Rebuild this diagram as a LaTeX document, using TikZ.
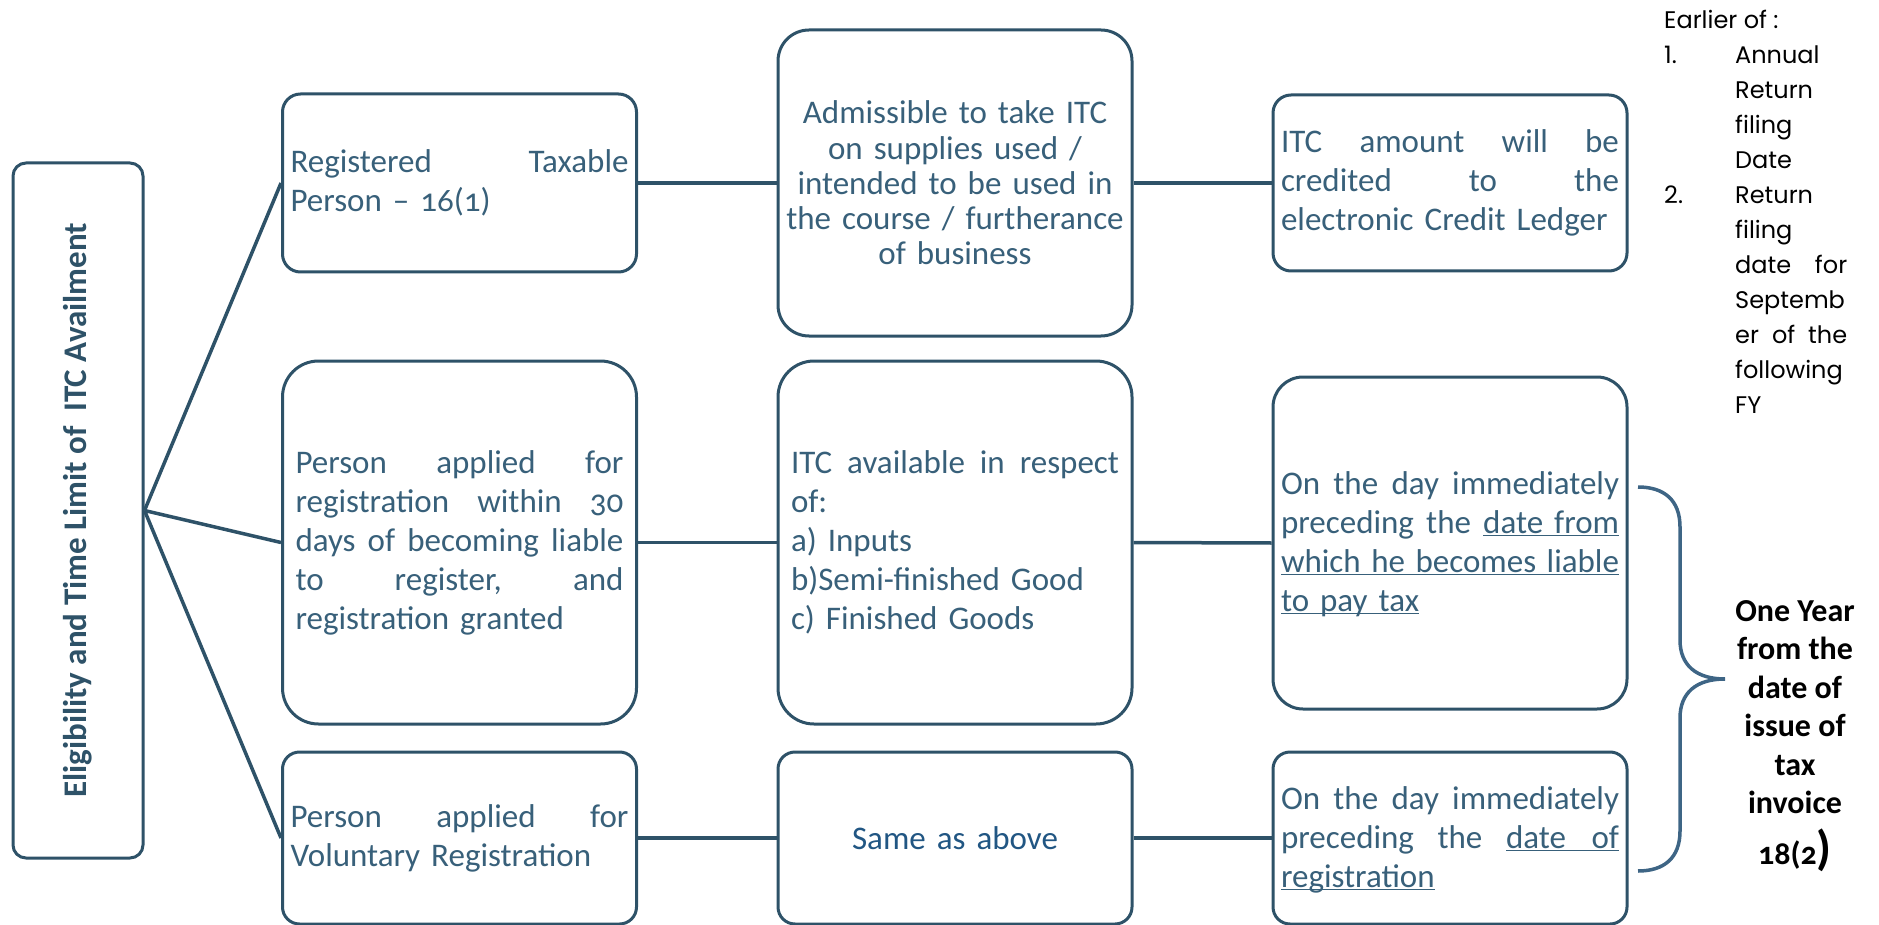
\documentclass[tikz,border=0pt]{standalone}
\usepackage{fontspec}
\setmainfont{Carlito}[Numbers=OldStyle]
\newfontfamily\geofont{Poppins}
\usepackage{tikz}
\usetikzlibrary{positioning,calc}

\definecolor{slate}{HTML}{2E5268}
\definecolor{slatetext}{HTML}{38607A}
\definecolor{sameblue}{HTML}{215683}
\definecolor{bracecol}{HTML}{3E6585}

\newcommand{\ulin}[1]{\underline{\smash{#1}}}

\tikzset{
  box/.style={draw=slate, line width=3pt, fill=white, text=slatetext,
    font=\fontsize{33}{39}\selectfont, inner xsep=0pt, inner ysep=0pt,
    minimum width=354pt},
  link/.style={draw=slate, line width=3.5pt},
}

\begin{document}
\begin{tikzpicture}[x=1pt, y=-1pt]
            \useasboundingbox (0,0) rectangle (1879,925);
            % Title box
            \node[box, rotate=90, rounded corners=13pt, minimum width=695pt, minimum height=130pt,
              text=slate, font=\bfseries\fontsize{33}{39}\selectfont] (title) at (78,510.5)
              {Eligibility and Time Limit of \ ITC Availment};
            % First row
            \node[box, rounded corners=18pt, minimum height=178pt, text width=338pt] (regd) at (459.5,183)
              {Registered\hfill Taxable\\ Person -- 16(1)};
            \node[box, rounded corners=31pt, minimum height=306pt, text width=338pt, align=center,
              font=\fontsize{33}{35.2}\selectfont] (admit) at (955,183)
              {Admissible to take ITC\\ on supplies used /\\ intended to be used in\\ the course / furtherance\\ of business};
            \node[box, rounded corners=18pt, minimum height=176pt, text width=338pt] (credit) at (1450,183)
              {ITC\hfill amount\hfill will\hfill be\\ credited\hfill to\hfill the\\ electronic Credit Ledger};
            % Second row
            \node[box, rounded corners=36pt, minimum height=363pt, text width=328pt] (within30) at (459.5,542.5)
              {Person\hfill applied\hfill for\\ registration\hfill within\hfill 30\\ days\hfill of\hfill becoming\hfill liable\\
               to\hfill register,\hfill and\\ registration granted};
            \node[box, rounded corners=36pt, minimum height=363pt, text width=328pt] (avail) at (955,542.5)
              {ITC\hfill available\hfill in\hfill respect\\ of:\\ a) Inputs\\ b)Semi-finished Good\\ c) Finished Goods};
            \node[box, rounded corners=30pt, minimum height=332pt, text width=338pt] (liable) at (1450,543)
              {On\hfill the\hfill day\hfill immediately\\ preceding\hfill the\hfill \ulin{date from}\\
               \ulin{\makebox[338pt]{which\hfill he\hfill becomes\hfill liable}}\\ \ulin{to pay tax}};
            % Third row
            \node[box, rounded corners=17pt, minimum height=172pt, text width=338pt] (volreg) at (459.5,838)
              {Person\hfill applied\hfill for\\ Voluntary Registration};
            \node[box, rounded corners=17pt, minimum height=172pt, text width=338pt, align=center,
              text=sameblue] (same) at (955,838) {Same as above};
            \node[box, rounded corners=17pt, minimum height=172pt, text width=338pt] (regdate) at (1450,838)
              {On\hfill the\hfill day\hfill immediately\\ preceding\hfill the\hfill \ulin{\makebox[113pt]{date\hfill of}}\\
               \ulin{registration}};
            % Connectors
            \foreach \n in {regd, within30, volreg}
              \draw[link] (title.south) -- (\n.west);
            \foreach \a/\b in {regd/admit, admit/credit, within30/avail, avail/liable, volreg/same, same/regdate}
              \draw[link] (\a.east) -- (\b.west);
            % Brace and time limit
            \coordinate (bracetop) at (1638,487);
            \coordinate (bracetip) at (1725,679);
            \coordinate (bracebot) at (1638,871);
            \draw[bracecol, line width=3.5pt]
              (bracetop) .. controls (1664,487) and (1680,500) .. (1680,527) -- (1680,640)
              .. controls (1680,665) and (1696,679) .. (bracetip)
              .. controls (1696,679) and (1680,693) .. (1680,718) -- (1680,831)
              .. controls (1680,858) and (1664,871) .. (bracebot);
            \node[anchor=north, inner sep=0pt, align=center, text=black,
              font=\bfseries\fontsize{32}{38.5}\selectfont] (oneyear) at (1795,600)
              {One Year\\ from the\\ date of\\ issue of\\ tax\\ invoice\\[12pt] 18(2{\fontsize{48}{48}\selectfont)}};
            % Earlier of list
            \node[anchor=north west, inner sep=0pt, align=left, text=black,
              font=\geofont\fontsize{24}{35}\selectfont] (earlier) at (1664,10)
              {Earlier of :\\
               \makebox[71pt][l]{1.}Annual\\
               \hspace*{71pt}Return\\
               \hspace*{71pt}filing\\
               \hspace*{71pt}Date\\
               \makebox[71pt][l]{2.}Return\\
               \hspace*{71pt}filing\\
               \hspace*{71pt}\makebox[112pt]{date\hfill for}\\
               \hspace*{71pt}Septemb\\
               \hspace*{71pt}\makebox[112pt]{er\hfill of\hfill the}\\
               \hspace*{71pt}following\\
               \hspace*{71pt}FY};
\end{tikzpicture}
\end{document}
